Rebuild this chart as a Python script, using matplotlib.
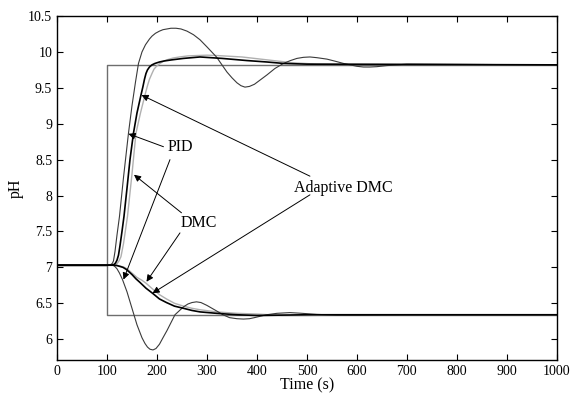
import matplotlib
matplotlib.use("Agg")
import matplotlib.pyplot as plt

plt.rcParams['font.family'] = ['Liberation Serif', 'DejaVu Serif']

# setpoints (step up / step down from 7.03 at t = 100 s)
sp_t = [0, 100, 100, 1000]
sp_up = [7.03, 7.03, 9.82, 9.82]
sp_down = [7.03, 7.03, 6.34, 6.34]

# PID response, step up
pid_up_t = [0, 100, 106, 109, 111, 113, 116, 120, 125, 133, 143, 150, 157, 163, 170, 177,
            185, 190, 197, 205, 212, 220, 228, 238, 248, 260, 273, 286, 300, 319, 340, 350,
            360, 368, 376, 385, 395, 420, 436, 453, 467, 480, 493, 506, 520, 540, 557,
            573, 600, 613, 626, 640, 660, 700, 1000]
pid_up = [7.03, 7.03, 7.035, 7.045, 7.06, 7.09, 7.22, 7.45, 7.71, 8.25, 8.87, 9.25, 9.58, 9.84, 10.0, 10.1,
          10.18, 10.22, 10.26, 10.29, 10.31, 10.32, 10.33, 10.33, 10.32, 10.29, 10.24, 10.17, 10.07, 9.93, 9.72, 9.64,
          9.57, 9.53, 9.51, 9.52, 9.55, 9.68, 9.77, 9.84, 9.88, 9.91, 9.925, 9.93, 9.92, 9.9, 9.87,
          9.84, 9.8, 9.79, 9.79, 9.795, 9.81, 9.83, 9.82]

# Adaptive DMC response, step up
admc_up_t = [0, 100, 110, 114, 117, 120, 123, 126, 130, 134, 140, 146, 153, 160, 168,
             172, 175, 178, 181, 185, 190, 196, 205, 215, 230, 253, 286, 330, 380, 420,
             453, 500, 1000]
admc_up = [7.03, 7.03, 7.032, 7.04, 7.06, 7.1, 7.17, 7.3, 7.5, 7.71, 8.1, 8.5, 8.87, 9.15, 9.40,
           9.52, 9.62, 9.70, 9.75, 9.79, 9.82, 9.84, 9.86, 9.875, 9.89, 9.91, 9.93, 9.91, 9.88, 9.86,
           9.84, 9.83, 9.82]

# DMC response, step up
dmc_up_t = [0, 100, 114, 118, 121, 124, 128, 133, 137, 141, 150, 158, 167, 176,
            181, 185, 190, 194, 199, 206, 213, 220, 232, 245, 262, 280, 300, 320, 370,
            420, 470, 520, 1000]
dmc_up = [7.03, 7.03, 7.032, 7.04, 7.06, 7.09, 7.15, 7.33, 7.52, 7.71, 8.3, 8.87, 9.15, 9.40,
          9.53, 9.62, 9.70, 9.76, 9.80, 9.84, 9.87, 9.89, 9.915, 9.93, 9.945, 9.95, 9.955, 9.95, 9.93,
          9.89, 9.85, 9.83, 9.82]

# PID response, step down
pid_dn_t = [0, 100, 112, 116, 120, 125, 131, 140, 150, 160, 170, 176, 181, 186, 192,
            198, 205, 212, 220, 236, 253, 262, 270, 279, 288, 300, 320,
            332, 345, 360, 373, 385, 395, 419, 440, 466, 490, 520, 560, 600, 700, 1000]
pid_dn = [7.03, 7.03, 7.03, 7.01, 6.98, 6.92, 6.83, 6.66, 6.43, 6.2, 6.02, 5.94, 5.89, 5.86, 5.85,
          5.87, 5.93, 6.02, 6.12, 6.34, 6.45, 6.49, 6.51, 6.52, 6.51, 6.47, 6.39,
          6.34, 6.3, 6.285, 6.28, 6.285, 6.3, 6.34, 6.36, 6.37, 6.36, 6.345, 6.335, 6.335, 6.34, 6.34]

# Adaptive DMC response, step down
admc_dn_t = [0, 100, 114, 120, 125, 132, 139, 150, 158, 166, 178, 191, 205, 219, 235, 253,
             270, 286, 319, 360, 400, 500, 1000]
admc_dn = [7.03, 7.03, 7.03, 7.025, 7.015, 7.0, 6.97, 6.9, 6.84, 6.79, 6.71, 6.64, 6.56, 6.51, 6.46, 6.43,
           6.4, 6.38, 6.36, 6.34, 6.33, 6.34, 6.34]

# DMC response, step down
dmc_dn_t = [0, 100, 116, 122, 128, 135, 142, 150, 160, 170, 178, 191, 205, 219, 235,
            253, 270, 286, 319, 360, 400, 450, 500, 600, 1000]
dmc_dn = [7.03, 7.03, 7.03, 7.025, 7.015, 7.0, 6.97, 6.92, 6.86, 6.82, 6.78, 6.7, 6.62, 6.56, 6.5,
          6.46, 6.43, 6.41, 6.38, 6.36, 6.35, 6.33, 6.33, 6.34, 6.34]

fig = plt.figure(figsize=(5.7, 3.94), dpi=100)
ax = fig.add_axes([0.1, 0.0863, 0.877, 0.873])

ax.plot(sp_t, sp_up, color='#6e6e6e', lw=1.0)
ax.plot(sp_t, sp_down, color='#6e6e6e', lw=1.0)
ax.plot(dmc_up_t, dmc_up, color='#b0b0b0', lw=1.0)
ax.plot(dmc_dn_t, dmc_dn, color='#b0b0b0', lw=1.0)
ax.plot(pid_up_t, pid_up, color='#3a3a3a', lw=0.8)
ax.plot(pid_dn_t, pid_dn, color='#3a3a3a', lw=0.8)
ax.plot(admc_up_t, admc_up, color='black', lw=1.2)
ax.plot(admc_dn_t, admc_dn, color='black', lw=1.2)

ax.set_xlim(0, 1000)
ax.set_ylim(5.71, 10.5)
ax.set_xticks(range(0, 1001, 100))
ax.set_yticks([6, 6.5, 7, 7.5, 8, 8.5, 9, 9.5, 10, 10.5])
ax.set_yticklabels(['6', '6.5', '7', '7.5', '8', '8.5', '9', '9.5', '10', '10.5'])
ax.tick_params(direction='in', top=True, right=True, length=4, width=0.8, labelsize=10)
for s in ax.spines.values():
    s.set_linewidth(1.0)
ax.set_xlabel('Time (s)', fontsize=11.5, labelpad=0)
ax.set_ylabel('pH', fontsize=11.5, labelpad=3)

arrow = dict(arrowstyle='-|>', color='black', lw=0.7, mutation_scale=10,
             shrinkA=0, shrinkB=0)

ax.text(246, 8.67, 'PID', fontsize=11.5, ha='center', va='center')
ax.annotate('', xy=(143, 8.86), xytext=(213, 8.68), arrowprops=arrow)
ax.annotate('', xy=(133, 6.83), xytext=(226, 8.5), arrowprops=arrow)

ax.text(283, 7.62, 'DMC', fontsize=11.5, ha='center', va='center')
ax.annotate('', xy=(154, 8.29), xytext=(249, 7.76), arrowprops=arrow)
ax.annotate('', xy=(179, 6.80), xytext=(246, 7.48), arrowprops=arrow)

ax.text(572, 8.11, 'Adaptive DMC', fontsize=11.5, ha='center', va='center')
ax.annotate('', xy=(169, 9.40), xytext=(506, 8.27), arrowprops=arrow)
ax.annotate('', xy=(191, 6.64), xytext=(506, 8.01), arrowprops=arrow)

fig.savefig('out.png', dpi=100)
